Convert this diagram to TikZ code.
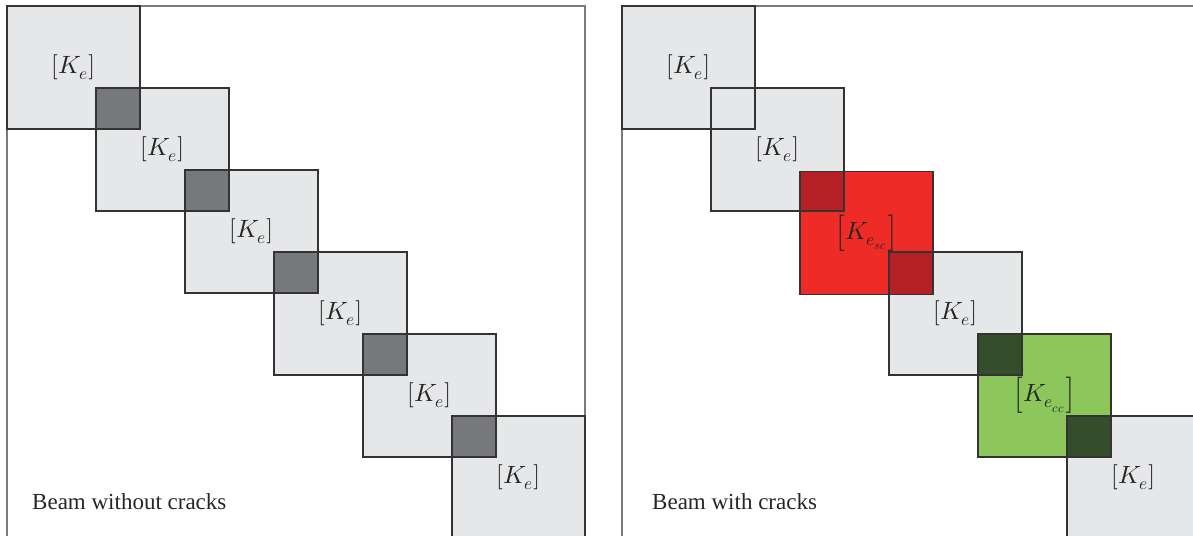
\documentclass[tikz,border=0pt]{standalone}
\usepackage{fontspec}
\usepackage{unicode-math}
\setmainfont{Liberation Serif}
\setmathfont{Latin Modern Math}
\definecolor{cellgray}{HTML}{E6E7E9}
\definecolor{ovlgray}{HTML}{77787B}
\definecolor{cellred}{HTML}{EE2B27}
\definecolor{ovlred}{HTML}{B42025}
\definecolor{cellgreen}{HTML}{8DC75B}
\definecolor{ovlgreen}{HTML}{344E2B}
\definecolor{edge}{HTML}{333333}
\definecolor{framec}{HTML}{7A7A7A}
\tikzset{
  cell/.style={rectangle, draw=edge, line width=1.3pt, fill=cellgray,
    minimum width=133pt, minimum height=123pt, inner sep=0pt, outer sep=0pt,
    text=black!85, font=\fontsize{25}{30}\selectfont},
  redcell/.style={cell, fill=cellred},
  greencell/.style={cell, fill=cellgreen},
  ovl/.style={draw=edge, line width=1.3pt},
  frameline/.style={draw=framec, line width=1.6pt},
  caption/.style={anchor=base west, inner sep=0pt, text=black!85,
    font=\fontsize{23}{27}\selectfont}
}
\begin{document}
\begin{tikzpicture}[x=1pt,y=-1pt]
\useasboundingbox (0,0) rectangle (1193,535);
\clip (0,0) rectangle (1193,535);
% ---------- left panel ----------
\draw[frameline] (7,540) -- (7,6) -- (585,6) -- (585,540);
\node[cell] (L1) at (73.5,67.5) {$[K_e]$};
\node[cell] (L2) at (162.5,149.5) {$[K_e]$};
\fill[ovlgray] (L2.north west) rectangle (L1.south east);
\draw[ovl] (L2.north west) rectangle (L1.south east);
\node[cell] (L3) at (251.5,231.5) {$[K_e]$};
\fill[ovlgray] (L3.north west) rectangle (L2.south east);
\draw[ovl] (L3.north west) rectangle (L2.south east);
\node[cell] (L4) at (340.5,313.5) {$[K_e]$};
\fill[ovlgray] (L4.north west) rectangle (L3.south east);
\draw[ovl] (L4.north west) rectangle (L3.south east);
\node[cell] (L5) at (429.5,395.5) {$[K_e]$};
\fill[ovlgray] (L5.north west) rectangle (L4.south east);
\draw[ovl] (L5.north west) rectangle (L4.south east);
\node[cell] (L6) at (518.5,477.5) {$[K_e]$};
\fill[ovlgray] (L6.north west) rectangle (L5.south east);
\draw[ovl] (L6.north west) rectangle (L5.south east);
\node[caption] (capL) at (32,509) {Beam without cracks};
% ---------- right panel ----------
\draw[frameline] (622,540) -- (622,6) -- (1200,6);
\node[cell] (R1) at (688.5,67.5) {$[K_e]$};
\node[cell] (R2) at (777.5,149.5) {$[K_e]$};
\draw[ovl] (R2.north west) rectangle (R1.south east);
\node[redcell] (R3) at (866.5,233) {$\left[K_{e_{sc}}\right]$};
\fill[ovlred] (R3.north west) rectangle (R2.south east);
\draw[ovl] (R3.north west) rectangle (R2.south east);
\node[cell] (R4) at (955.5,313.5) {$[K_e]$};
\fill[ovlred] (R4.north west) rectangle (R3.south east);
\draw[ovl] (R4.north west) rectangle (R3.south east);
\node[greencell] (R5) at (1044.5,395.5) {$\left[K_{e_{cc}}\right]$};
\fill[ovlgreen] (R5.north west) rectangle (R4.south east);
\draw[ovl] (R5.north west) rectangle (R4.south east);
\node[cell] (R6) at (1133.5,477.5) {$[K_e]$};
\fill[ovlgreen] (R6.north west) rectangle (R5.south east);
\draw[ovl] (R6.north west) rectangle (R5.south east);
\node[caption] (capR) at (652,509) {Beam with cracks};
\end{tikzpicture}
\end{document}
